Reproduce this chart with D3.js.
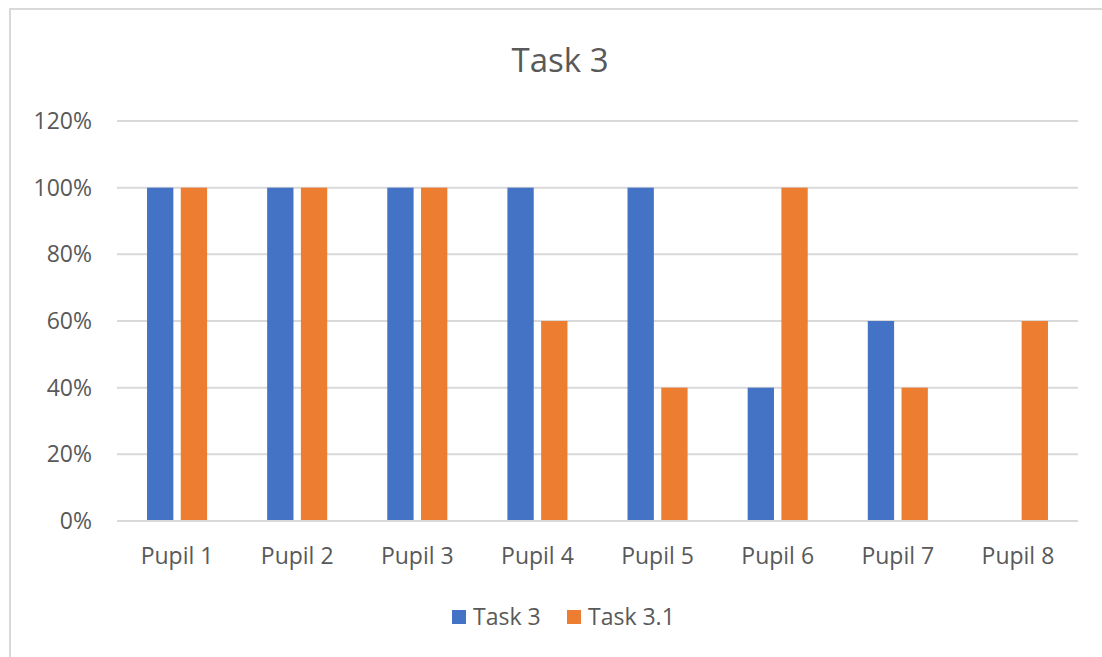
<!DOCTYPE html>
<html>
<head>
<meta charset="utf-8">
<script src="https://cdn.jsdelivr.net/npm/d3@7"></script>
<style>
  html, body { margin: 0; padding: 0; background: #fff; }
  svg { display: block; font-family: "Open Sans", "Noto Sans", sans-serif; }
</style>
</head>
<body>
<svg id="chart" width="1102" height="657"></svg>
<script>
const categories = ["Pupil 1", "Pupil 2", "Pupil 3", "Pupil 4", "Pupil 5", "Pupil 6", "Pupil 7", "Pupil 8"];
const seriesNames = ["Task 3", "Task 3.1"];
const task3 = [1.0, 1.0, 1.0, 1.0, 1.0, 0.4, 0.6, 0.0];
const task31 = [1.0, 1.0, 1.0, 0.6, 0.4, 1.0, 0.4, 0.6];
const yTicks = [0, 0.2, 0.4, 0.6, 0.8, 1.0, 1.2];
const colors = ["#4472C4", "#ED7D31"];
const title = "Task 3";

const seriesValues = [task3, task31];
const svg = d3.select("#chart");
const textColor = "#595959";
const gridColor = "#d9d9d9";

// chart border
svg.append("rect")
  .attr("x", 10).attr("y", 9)
  .attr("width", 1100).attr("height", 670)
  .attr("fill", "none")
  .attr("stroke", gridColor)
  .attr("stroke-width", 2);

// title
svg.append("text")
  .attr("x", 560).attr("y", 72)
  .attr("text-anchor", "middle")
  .attr("font-size", 33)
  .attr("fill", textColor)
  .text(title);

const plotLeft = 117, plotRight = 1078, plotTop = 121, plotBottom = 521;

const x0 = d3.scaleBand().domain(categories).range([plotLeft, plotRight]).padding(0);
const y = d3.scaleLinear().domain([0, 1.2]).range([plotBottom, plotTop]);

const groupWidth = x0.step() * 0.5;
const x1 = d3.scaleBand().domain(seriesNames).range([0, groupWidth]).paddingInner(0.22).paddingOuter(0);

// gridlines
svg.append("g")
  .selectAll("line")
  .data(yTicks)
  .join("line")
  .attr("x1", plotLeft).attr("x2", plotRight)
  .attr("y1", d => y(d)).attr("y2", d => y(d))
  .attr("stroke", gridColor)
  .attr("stroke-width", 2);

// y labels
const fmt = d3.format(".0%");
svg.append("g")
  .selectAll("text")
  .data(yTicks)
  .join("text")
  .attr("x", 92)
  .attr("y", d => y(d))
  .attr("dy", "0.35em")
  .attr("text-anchor", "end")
  .attr("font-size", 23)
  .attr("fill", textColor)
  .text(d => fmt(d));

// bars
const barData = [];
categories.forEach((c, i) => {
  seriesNames.forEach((s, j) => {
    barData.push({ cat: c, series: s, value: seriesValues[j][i], color: colors[j] });
  });
});

svg.append("g")
  .selectAll("rect")
  .data(barData.filter(d => d.value > 0))
  .join("rect")
  .attr("x", d => x0(d.cat) + (x0.step() - groupWidth) / 2 + x1(d.series))
  .attr("width", x1.bandwidth())
  .attr("y", d => y(d.value))
  .attr("height", d => y(0) - y(d.value))
  .attr("fill", d => d.color);

// x axis line
svg.append("line")
  .attr("x1", plotLeft).attr("x2", plotRight)
  .attr("y1", y(0)).attr("y2", y(0))
  .attr("stroke", gridColor)
  .attr("stroke-width", 2);

// x labels
svg.append("g")
  .selectAll("text")
  .data(categories)
  .join("text")
  .attr("x", d => x0(d) + x0.bandwidth() / 2)
  .attr("y", 564)
  .attr("text-anchor", "middle")
  .attr("font-size", 23)
  .attr("fill", textColor)
  .text(d => d);

// legend
const legendItems = [
  { name: seriesNames[0], color: colors[0], x: 452 },
  { name: seriesNames[1], color: colors[1], x: 567 }
];
const lg = svg.append("g").selectAll("g").data(legendItems).join("g");
lg.append("rect")
  .attr("x", d => d.x).attr("y", 610)
  .attr("width", 14).attr("height", 14)
  .attr("fill", d => d.color);
lg.append("text")
  .attr("x", d => d.x + 21).attr("y", 625)
  .attr("font-size", 23)
  .attr("fill", textColor)
  .text(d => d.name);
</script>
</body>
</html>
